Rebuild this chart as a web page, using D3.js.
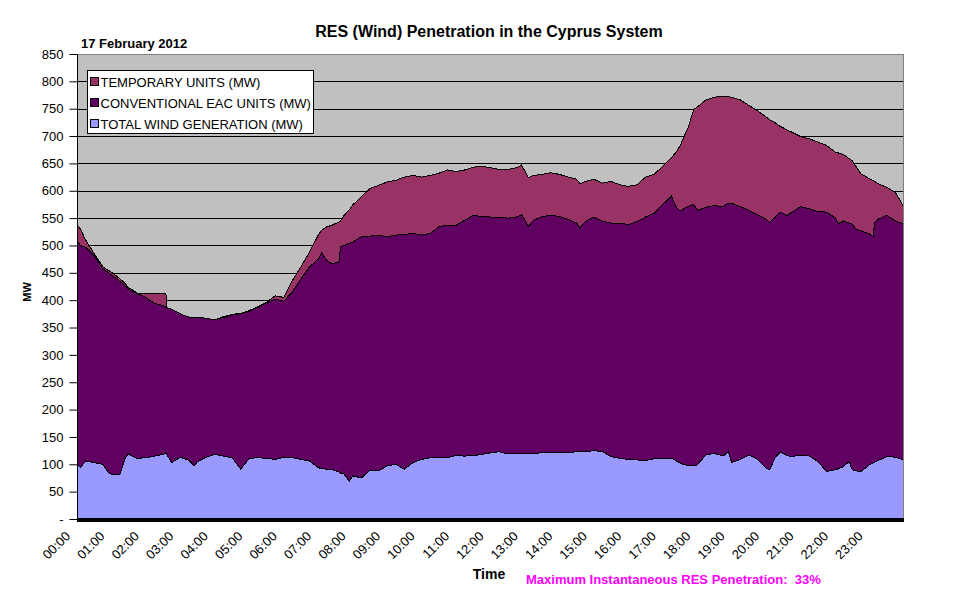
<!DOCTYPE html>
<html>
<head>
<meta charset="utf-8">
<script src="https://cdn.jsdelivr.net/npm/d3@7"></script>
<style>
  body { margin: 0; background: #fff; }
  svg { display: block; font-family: "Liberation Sans", Arial, sans-serif; }
</style>
</head>
<body>
<div id="chart"></div>
<script>
// time of day in hours
var hours = [0, 0.1, 0.25, 0.5, 0.75, 0.9, 1, 1.25, 1.4, 1.5, 1.72, 1.75, 2, 2.25, 2.5, 2.58, 2.6, 2.75,
  3, 3.25, 3.4, 3.5, 3.75, 4, 4.25, 4.5, 4.75, 5, 5.25, 5.5, 5.75, 6, 6.25, 6.5, 6.75,
  7, 7.1, 7.25, 7.4, 7.6, 7.65, 7.75, 7.9, 8, 8.25, 8.5, 8.75, 9, 9.25, 9.5, 9.75,
  10, 10.25, 10.5, 10.75, 11, 11.25, 11.5, 11.75, 12, 12.25, 12.5, 12.75, 12.9, 13, 13.1, 13.25,
  13.5, 13.75, 14, 14.25, 14.5, 14.6, 14.75, 15, 15.25, 15.5, 15.75, 16, 16.25, 16.5, 16.75,
  17, 17.25, 17.4, 17.5, 17.75, 17.9, 18, 18.25, 18.5, 18.75, 18.9, 19, 19.25, 19.5, 19.75,
  20, 20.1, 20.25, 20.4, 20.5, 20.6, 20.75, 21, 21.25, 21.5, 21.75, 22, 22.1, 22.25, 22.4,
  22.5, 22.6, 22.75, 23, 23.1, 23.15, 23.25, 23.5, 23.75, 24];

var windMW = [100, 94, 106, 103, 100, 86, 82, 82, 112, 119, 111, 111, 112, 115, 118, 121, 118, 103,
  113, 107, 97, 105, 113, 118, 115, 112, 91, 111, 112, 111, 109, 113, 112, 109, 106,
  94, 92, 91, 90, 86, 84, 82, 69, 79, 75, 89, 88, 97, 100, 91, 103,
  109, 112, 113, 112, 116, 115, 116, 118, 121, 123, 119, 120, 120, 120, 120, 120,
  121, 121, 121, 121, 123, 123, 123, 125, 123, 114, 111, 109, 108, 107, 110,
  111, 111, 106, 102, 97, 97, 99, 117, 120, 115, 123, 103, 109, 117, 109,
  93, 90, 111, 122, 120, 116, 114, 117, 115, 105, 87, 90, 92, 96, 105,
  90, 88, 87, 99, 102, 104, 107, 114, 113, 108];

var conventionalMW = [408, 406, 391, 378, 357, 365, 364, 352, 314, 301, 302, 301, 293, 279, 272, 266, 269, 280,
  262, 262, 271, 264, 254, 246, 253, 261, 284, 269, 275, 284, 293, 285, 303, 330, 355,
  381, 394, 382, 376, 384, 414, 418, 435, 427, 441, 428, 431, 419, 419, 429, 419,
  410, 410, 421, 425, 421, 431, 439, 435, 431, 429, 431, 432, 436, 427, 415, 426,
  432, 434, 432, 427, 418, 409, 421, 427, 421, 427, 430, 429, 436, 445, 449,
  464, 479, 463, 461, 475, 478, 465, 453, 453, 456, 454, 474, 462, 447, 447,
  455, 452, 440, 439, 438, 439, 447, 454, 452, 457, 474, 461, 448, 449, 436,
  449, 442, 440, 422, 414, 438, 441, 441, 432, 431];

var temporaryMW = [30, 30, 13, 4, 4, 4, 5, 5, 4, 3, 1, 1, 8, 19, 23, 26, 0, 0,
  0, 0, 0, 0, 0, 0, 2, 1, 1, 1, 1, 1, 6, 7, 21, 22, 27,
  44, 42, 61, 71, 73, 47, 55, 61, 68, 73, 87, 91, 100, 100, 105, 106,
  106, 106, 98, 101, 98, 92, 88, 92, 90, 87, 89, 90, 91, 89, 89, 82,
  77, 78, 77, 77, 80, 81, 73, 69, 70, 76, 70, 70, 67, 73, 71,
  70, 70, 103, 119, 146, 174, 189, 196, 198, 202, 195, 194, 195, 192, 190,
  187, 188, 174, 157, 157, 156, 146, 128, 128, 127, 122, 120, 129, 121, 118,
  116, 115, 104, 101, 103, 75, 65, 51, 52, 31];

var seriesNames = ['TOTAL WIND GENERATION (MW)', 'CONVENTIONAL EAC UNITS (MW)', 'TEMPORARY UNITS (MW)'];
var seriesColors = ['#9999ff', '#600060', '#993366'];
var yTicks = d3.range(0, 851, 50);
var hourTicks = d3.range(0, 24);

(function(){
  "use strict";
  var width = 978, height = 601;
  var plotL = 77, plotR = 904, plotT = 54, plotB = 519;
  var fontFamily = '"Liberation Sans", Arial, sans-serif';

  var svg = d3.select('#chart').append('svg')
    .attr('width', width)
    .attr('height', height);

  var x = d3.scaleLinear().domain([0, 24]).range([plotL, plotR]);
  var y = d3.scaleLinear().domain([0, 850]).range([plotB, plotT]);

  //build rows for the stack
  var rows = hours.map(function(h, i){
    return {h: h, s0: windMW[i], s1: conventionalMW[i], s2: temporaryMW[i]};
  });
  var stacked = d3.stack().keys(['s0', 's1', 's2'])(rows);

  //plot background
  svg.append('rect')
    .attr('x', plotL).attr('y', plotT)
    .attr('width', plotR - plotL).attr('height', plotB - plotT)
    .attr('fill', '#c0c0c0');

  //gridlines
  svg.append('g').selectAll('line')
    .data(yTicks.filter(function(d){ return d > 0 && d < 850; }))
    .enter().append('line')
    .attr('x1', plotL).attr('x2', plotR)
    .attr('y1', function(d){ return Math.round(y(d)) + 0.5; })
    .attr('y2', function(d){ return Math.round(y(d)) + 0.5; })
    .attr('stroke', '#000').attr('stroke-width', 1);

  //stacked areas
  var area = d3.area()
    .x(function(d){ return x(d.data.h); })
    .y0(function(d){ return y(d[0]); })
    .y1(function(d){ return y(d[1]); });
  var topLine = d3.line()
    .x(function(d){ return x(d.data.h); })
    .y(function(d){ return y(d[1]); });

  svg.append('g').selectAll('path')
    .data(stacked)
    .enter().append('path')
    .attr('d', area)
    .attr('shape-rendering', 'crispEdges')
    .attr('fill', function(d, i){ return seriesColors[i]; });

  svg.append('g').selectAll('path')
    .data(stacked)
    .enter().append('path')
    .attr('d', topLine)
    .attr('fill', 'none')
    .attr('shape-rendering', 'crispEdges')
    .attr('stroke', '#000')
    .attr('stroke-width', 1);

  //plot border
  svg.append('rect')
    .attr('x', plotL + 0.5).attr('y', plotT + 0.5)
    .attr('width', plotR - plotL - 1).attr('height', plotB - plotT)
    .attr('fill', 'none').attr('stroke', '#808080');

  //thick base line
  svg.append('rect')
    .attr('x', plotL).attr('y', plotB - 1)
    .attr('width', plotR - plotL).attr('height', 4)
    .attr('fill', '#000');

  //y axis
  var yAxis = d3.axisLeft(y)
    .tickValues(yTicks)
    .tickSize(8)
    .tickPadding(6)
    .tickFormat(function(d){ return d === 0 ? '-' : d; });
  var yg = svg.append('g')
    .attr('transform', 'translate(' + (plotL + 0.5) + ',0)')
    .call(yAxis);
  yg.select('.domain').attr('stroke', '#000').attr('d', 'M0,' + plotT + 'V' + plotB);
  yg.selectAll('text').attr('font-size', 13).attr('font-family', fontFamily).attr('fill', '#000');

  //x tick labels, rotated
  svg.append('g').selectAll('text')
    .data(hourTicks)
    .enter().append('text')
    .attr('transform', function(d){ return 'translate(' + (x(d) - 6) + ',537) rotate(-45)'; })
    .attr('text-anchor', 'end')
    .attr('font-size', 13)
    .text(function(d){ return (d < 10 ? '0' : '') + d + ':00'; });

  //titles
  svg.append('text')
    .attr('x', 489).attr('y', 37)
    .attr('text-anchor', 'middle')
    .attr('font-size', 16).attr('font-weight', 'bold')
    .text('RES (Wind) Penetration in the Cyprus System');
  svg.append('text')
    .attr('x', 81).attr('y', 48)
    .attr('font-size', 13).attr('font-weight', 'bold')
    .text('17 February 2012');
  svg.append('text')
    .attr('transform', 'translate(31,292) rotate(-90)')
    .attr('text-anchor', 'middle')
    .attr('font-size', 11).attr('font-weight', 'bold')
    .text('MW');
  svg.append('text')
    .attr('x', 489).attr('y', 579)
    .attr('text-anchor', 'middle')
    .attr('font-size', 14).attr('font-weight', 'bold')
    .text('Time');
  svg.append('text')
    .attr('x', 526).attr('y', 584)
    .attr('font-size', 13).attr('font-weight', 'bold')
    .attr('fill', '#ff00ff')
    .style('white-space', 'pre')
    .text('Maximum Instantaneous RES Penetration:  33%');

  //legend
  var legend = svg.append('g').attr('transform', 'translate(87.5,70.5)');
  legend.append('rect')
    .attr('width', 226).attr('height', 63)
    .attr('fill', '#fff').attr('stroke', '#000');
  var legendOrder = [2, 1, 0];
  var items = legend.selectAll('g.item')
    .data(legendOrder)
    .enter().append('g')
    .attr('class', 'item')
    .attr('transform', function(d, i){ return 'translate(0,' + (11 + i * 21) + ')'; });
  items.append('rect')
    .attr('x', 3).attr('y', -4)
    .attr('width', 8).attr('height', 8)
    .attr('fill', function(d){ return seriesColors[d]; })
    .attr('stroke', '#000');
  items.append('text')
    .attr('x', 13).attr('y', 5)
    .attr('font-size', 13)
    .text(function(d){ return seriesNames[d]; });
})();
</script>
</body>
</html>
